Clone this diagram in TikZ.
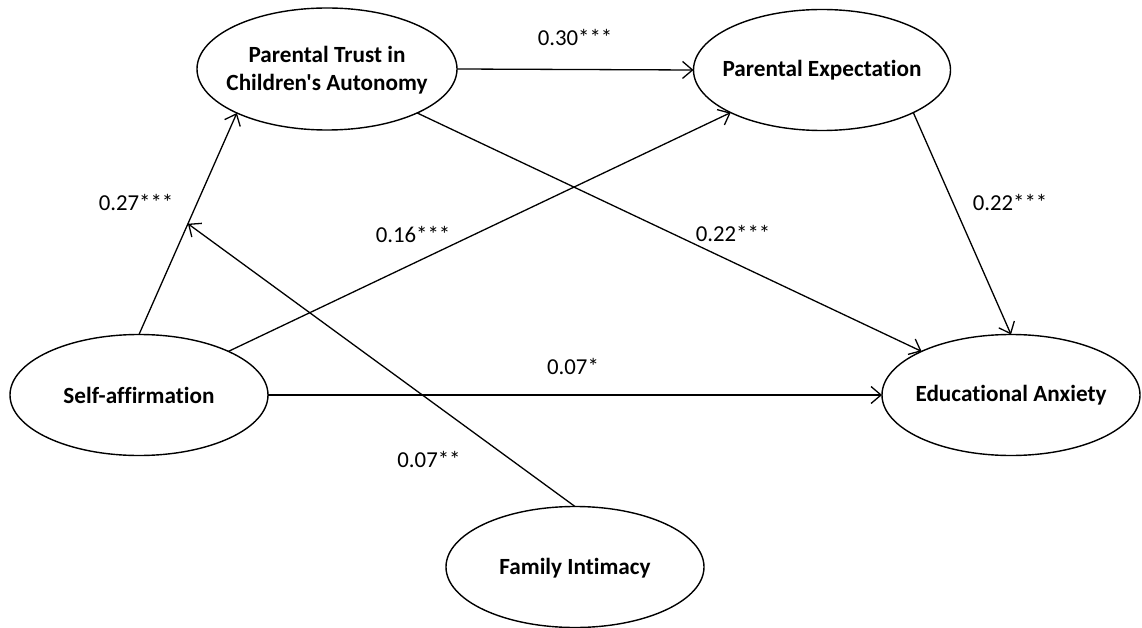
\documentclass[tikz,border=0pt]{standalone}
\usepackage{fontspec}
\setmainfont{Carlito}[Ligatures={NoCommon}]
\newfontfamily\cfont{Carlito}[Ligatures=NoCommon]
\usetikzlibrary{calc,arrows.meta,shapes.geometric}
\begin{document}
\begin{tikzpicture}[x=1pt,y=-1pt,
  var/.style={draw,ellipse,line width=1.4pt,inner sep=0pt,outer sep=0pt,minimum width=258pt,minimum height=121pt},
  vtext/.style={font=\cfont\fontsize{23.2}{28}\selectfont\bfseries,align=center,inner sep=0pt},
  arr/.style={line width=1.3pt,-{Straight Barb[length=10pt,width=17pt,line width=1.3pt]}},
  coef/.style={font=\cfont\fontsize{22.8}{27}\selectfont,inner sep=0pt}]
\useasboundingbox (0,0) rectangle (1142,628);
\node[var,minimum width=260pt,minimum height=122pt] (pt) at (327,69) {};
\node[vtext] (ptt) at (327,70) {Parental Trust in\\Children's Autonomy};
\node[var,minimum width=257pt] (pe) at (822,70) {};
\node[vtext] (pet) at (822,70) {Parental Expectation};
\node[var] (sa) at (139,395) {};
\node[vtext] (sat) at (139,395) {Self-affirmation};
\node[var] (ea) at (1011,395) {};
\node[vtext] (eat) at (1011,395) {Educational Anxiety};
\node[var] (fi) at (575,567) {};
\node[vtext] (fit) at (575,568) {Family Intimacy};

\draw[arr] (pt.east) -- (pe.west);
\draw[arr] (sa.north) -- (pt.206);
\coordinate (mid) at ($(sa.north)!0.5!(pt.206)$);
\draw[arr] (fi.north) -- (mid);
\draw[arr] (sa.26) -- (pe.205);
\draw[arr] (pt.334) -- (ea.154);
\draw[arr] (pe.335) -- (ea.north);
\draw[arr] (sa.east) -- (ea.west);

\node[coef] (c1) at (575,37) {0.30***};
\node[coef] (c2) at (136,202) {0.27***};
\node[coef] (c3) at (413,234) {0.16***};
\node[coef] (c4) at (733,233) {0.22***};
\node[coef] (c5) at (1010,202) {0.22***};
\node[coef] (c6) at (573,366) {0.07*};
\node[coef] (c7) at (429,459) {0.07**};
\end{tikzpicture}
\end{document}
